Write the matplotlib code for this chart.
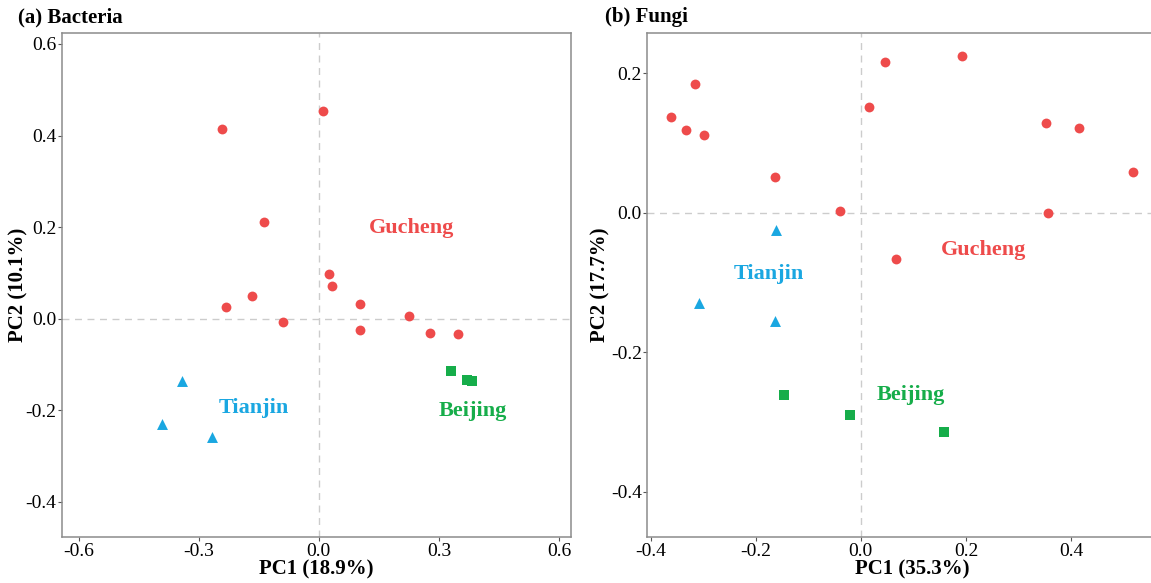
import matplotlib.pyplot as plt

plt.rcParams['font.family'] = ['Liberation Serif', 'DejaVu Serif']

# colours per site
RED = '#EE4B4B'
BLUE = '#1AA7E1'
GREEN = '#16AD4A'

# (a) Bacteria
bac_gu_x = [-0.241, 0.010, -0.137, 0.025, 0.034, -0.166, -0.233, -0.089, 0.103, 0.103, 0.224, 0.278, 0.347]
bac_gu_y = [0.414, 0.454, 0.212, 0.098, 0.071, 0.050, 0.026, -0.007, 0.031, -0.025, 0.006, -0.032, -0.033]
bac_tj_x = [-0.341, -0.392, -0.267]
bac_tj_y = [-0.136, -0.231, -0.258]
bac_bj_x = [0.331, 0.370, 0.383]
bac_bj_y = [-0.114, -0.135, -0.137]

# (b) Fungi
fun_gu_x = [-0.362, -0.316, -0.333, -0.298, -0.163, -0.040, 0.015, 0.046, 0.193, 0.067, 0.353, 0.416, 0.357, 0.517]
fun_gu_y = [0.137, 0.184, 0.119, 0.111, 0.051, 0.002, 0.151, 0.216, 0.224, -0.066, 0.128, 0.122, 0.000, 0.058]
fun_tj_x = [-0.161, -0.308, -0.164]
fun_tj_y = [-0.025, -0.129, -0.155]
fun_bj_x = [-0.147, -0.021, 0.159]
fun_bj_y = [-0.261, -0.290, -0.314]

fig = plt.figure(figsize=(11.51, 5.83), dpi=100)
axA = fig.add_axes([0.054, 0.0789, 0.4419, 0.8645])
# panel b runs past the right edge of the picture (cropped in the original)
axB = fig.add_axes([0.5625, 0.0789, 0.4594, 0.8645])


def draw(ax, gx, gy, tx, ty, bx, by):
    ax.axhline(0, color='#cccccc', lw=1, ls=(0, (5, 4)), zorder=0)
    ax.axvline(0, color='#cccccc', lw=1, ls=(0, (5, 4)), zorder=0)
    ax.scatter(gx, gy, s=50, marker='o', color=RED, lw=0, zorder=3)
    ax.scatter(tx, ty, s=62, marker='^', color=BLUE, lw=0, zorder=3)
    ax.scatter(bx, by, s=55, marker='s', color=GREEN, lw=0, zorder=3)
    for sp in ax.spines.values():
        sp.set_color('#8c8c8c')
        sp.set_linewidth(1.1)
    ax.tick_params(length=3, width=0.8, color='#555555', labelsize=14, pad=1)


draw(axA, bac_gu_x, bac_gu_y, bac_tj_x, bac_tj_y, bac_bj_x, bac_bj_y)
axA.set_xlim(-0.641, 0.629)
axA.set_ylim(-0.477, 0.624)
axA.set_xticks([-0.6, -0.3, 0.0, 0.3, 0.6])
axA.set_xticklabels(['-0.6', '-0.3', '0.0', '0.3', '0.6'])
axA.set_yticks([-0.4, -0.2, 0.0, 0.2, 0.4, 0.6])
axA.set_yticklabels(['-0.4', '-0.2', '0.0', '0.2', '0.4', '0.6'])
axA.set_xlabel('PC1 (18.9%)', fontsize=15, fontweight='bold', labelpad=0)
axA.set_ylabel('PC2 (10.1%)', fontsize=15, fontweight='bold')
axA.yaxis.set_label_coords(-0.067, 0.5)
axA.text(0.232, 0.197, 'Gucheng', color=RED, fontsize=16, fontweight='bold', ha='center', va='center')
axA.text(-0.163, -0.196, 'Tianjin', color=BLUE, fontsize=16, fontweight='bold', ha='center', va='center')
axA.text(0.384, -0.201, 'Beijing', color=GREEN, fontsize=16, fontweight='bold', ha='center', va='center')

draw(axB, fun_gu_x, fun_gu_y, fun_tj_x, fun_tj_y, fun_bj_x, fun_bj_y)
axB.set_xlim(-0.406, 0.6)
axB.set_ylim(-0.465, 0.2575)
axB.set_xticks([-0.4, -0.2, 0.0, 0.2, 0.4])
axB.set_xticklabels(['-0.4', '-0.2', '0.0', '0.2', '0.4'])
axB.set_yticks([-0.4, -0.2, 0.0, 0.2])
axB.set_yticklabels(['-0.4', '-0.2', '0.0', '0.2'])
axB.set_xlabel('PC1 (35.3%)', fontsize=15, fontweight='bold', labelpad=0)
axB.set_ylabel('PC2 (17.7%)', fontsize=15, fontweight='bold')
axB.yaxis.set_label_coords(-0.069, 0.5)
axB.text(0.233, -0.054, 'Gucheng', color=RED, fontsize=16, fontweight='bold', ha='center', va='center')
axB.text(-0.176, -0.088, 'Tianjin', color=BLUE, fontsize=16, fontweight='bold', ha='center', va='center')
axB.text(0.096, -0.262, 'Beijing', color=GREEN, fontsize=16, fontweight='bold', ha='center', va='center')

fig.text(18 / 1151, 1 - 17 / 583, '(a) Bacteria', fontsize=15, fontweight='bold', ha='left', va='center')
fig.text(605 / 1151, 1 - 17 / 583, '(b) Fungi', fontsize=15, fontweight='bold', ha='left', va='center')

fig.savefig('out.png', dpi=100)
